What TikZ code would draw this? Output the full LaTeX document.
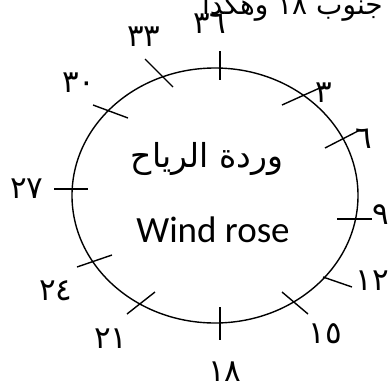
\documentclass[tikz,border=0pt]{standalone}
\usepackage{fontspec}
\setmainfont{Carlito}
\newfontfamily\arabicfont[Script=Arabic]{DejaVu Sans}
\TeXXeTstate=1
\begin{document}
\begin{tikzpicture}[x=1pt,y=-1pt,
  rim/.style={line width=1.4pt},
  tick/.style={line width=1.4pt},
  deg/.style={inner sep=0pt,font=\arabicfont\fontsize{31}{31}\selectfont},
  ]
\useasboundingbox (0,0) rectangle (388,383);
% ring
\draw[rim] (215,195.5) ellipse [x radius=143, y radius=127.5];
% ticks
\draw[tick] (220,51) -- (220,80);
\draw[tick] (145,59) -- (173,87);
\draw[tick] (93,105) -- (128,118);
\draw[tick] (282,105) -- (322,87);
\draw[tick] (325,148) -- (360,130);
\draw[tick] (337,219) -- (372,219);
\draw[tick] (323,277) -- (352,287);
\draw[tick] (282,292) -- (308,314);
\draw[tick] (220,307) -- (220,340);
\draw[tick] (127,314) -- (155,292);
\draw[tick] (77,267) -- (112,255);
\draw[tick] (54,189) -- (88,189);
% labels
\node[deg] (l36) at (210,24) {٣٦};
\node[deg] (l33) at (144,37) {٣٣};
\node[deg] (l30) at (79,83) {٣٠};
\node[deg] (l3) at (324,93) {٣};
\node[deg] (l6) at (364,139) {٦};
\node[deg] (l9) at (381,215) {٩};
\node[deg] (l12) at (372,281) {١٢};
\node[deg] (l15) at (325,334) {١٥};
\node[deg] (l18) at (225,372) {١٨};
\node[deg] (l21) at (111,339) {٢١};
\node[deg] (l24) at (56,291) {٢٤};
\node[deg] (l27) at (27,189) {٢٧};
% top note
\node[deg,anchor=base east,font=\arabicfont\fontsize{28}{28}\selectfont] (note) at (383,14) {\beginR جنوب ١٨ وهكذا\endR};
% titles
\node[inner sep=0pt,font=\arabicfont\fontsize{33}{33}\selectfont] (ar) at (207,159) {\beginR وردة الرياح\endR};
\node[inner sep=0pt,font=\fontsize{37}{37}\selectfont] (en) at (213,230) {Wind rose};
\end{tikzpicture}
\end{document}
